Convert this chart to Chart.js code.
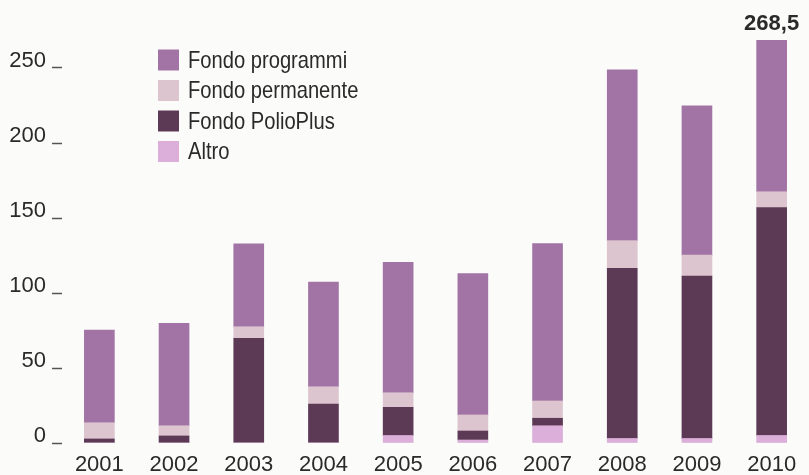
<!DOCTYPE html>
<html>
<head>
<meta charset="utf-8">
<script src="https://cdn.jsdelivr.net/npm/chart.js@4/dist/chart.umd.min.js"></script>
<style>
  html, body { margin: 0; padding: 0; background: #fbfbfa; }
  #wrap { width: 809px; height: 475px; }
</style>
</head>
<body>
<div id="wrap"><canvas id="chart"></canvas></div>
<script>
const years = ['2001', '2002', '2003', '2004', '2005', '2006', '2007', '2008', '2009', '2010'];

// valori in milioni, dal basso verso l'alto
const altro      = [0, 0, 0, 0, 5, 2, 11.5, 3, 3, 5];
const polioPlus  = [2.7, 4.7, 69.8, 26, 18.8, 6, 5, 113.4, 108.3, 152];
const permanente = [10.8, 6.8, 7.7, 11.5, 9.7, 10.7, 11.5, 18.5, 14, 10.5];
const programmi  = [61.8, 68.3, 55.2, 69.8, 87, 94.3, 105, 113.8, 99.4, 101];

const yTicks = [0, 50, 100, 150, 200, 250];
const labelledYear = '2010';

const colors = {
    programmi: '#a274a5',
    permanente: '#dcc5cf',
    polio: '#5c3a56',
    altro: '#dbafd9'
};

// legenda disegnata dentro l'area del grafico (testo stretto)
const legendPlugin = {
    id: 'insideLegend',
    afterDraw(chart) {
        const ctx = chart.ctx;
        const items = chart.data.datasets.slice().reverse();
        ctx.save();
        ctx.font = '24px "Liberation Sans", Arial, sans-serif';
        ctx.textBaseline = 'middle';
        items.forEach((ds, i) => {
            const y = 60 + i * 30.5;
            ctx.fillStyle = ds.backgroundColor;
            ctx.fillRect(158, y - 10.5, 21, 21);
            ctx.save();
            ctx.translate(188, y + 1);
            ctx.scale(0.84, 1);
            ctx.fillStyle = '#2a2a2a';
            ctx.fillText(ds.label, 0, 0);
            ctx.restore();
        });
        ctx.restore();
    }
};

// totale sopra la barra del 2010
const totalPlugin = {
    id: 'totalLabel',
    afterDatasetsDraw(chart) {
        const i = years.indexOf(labelledYear);
        const total = chart.data.datasets.reduce((s, ds) => s + ds.data[i], 0);
        const x = chart.scales.x.getPixelForValue(i);
        const y = chart.scales.y.getPixelForValue(total);
        const ctx = chart.ctx;
        ctx.save();
        ctx.font = 'bold 22px "Liberation Sans", Arial, sans-serif';
        ctx.fillStyle = '#2a2a2a';
        ctx.textAlign = 'center';
        ctx.textBaseline = 'middle';
        ctx.fillText(total.toFixed(1).replace('.', ','), x, y - 16);
        ctx.restore();
    }
};

new Chart(document.getElementById('chart'), {
    type: 'bar',
    data: {
        labels: years,
        datasets: [
            { label: 'Altro', data: altro, backgroundColor: colors.altro },
            { label: 'Fondo PolioPlus', data: polioPlus, backgroundColor: colors.polio },
            { label: 'Fondo permanente', data: permanente, backgroundColor: colors.permanente },
            { label: 'Fondo programmi', data: programmi, backgroundColor: colors.programmi }
        ]
    },
    options: {
        responsive: true,
        maintainAspectRatio: false,
        animation: false,
        layout: { padding: { top: 23, right: 0, left: 0, bottom: 0 } },
        datasets: {
            bar: { barThickness: 30, borderWidth: 0 }
        },
        plugins: {
            legend: { display: false },
            tooltip: { enabled: false }
        },
        scales: {
            x: {
                stacked: true,
                grid: { display: false, drawTicks: false },
                border: { display: false },
                ticks: {
                    color: '#2a2a2a',
                    padding: 9,
                    font: { family: '"Liberation Sans", Arial, sans-serif', size: 22 }
                },
                afterFit: scale => { scale.height = 32; }
            },
            y: {
                stacked: true,
                min: 0,
                max: 280,
                afterBuildTicks: scale => {
                    scale.ticks = yTicks.map(v => ({ value: v }));
                },
                grid: {
                    drawOnChartArea: false,
                    drawTicks: true,
                    tickLength: 10,
                    tickWidth: 1.5,
                    tickColor: '#555'
                },
                border: { display: false },
                ticks: {
                    color: '#2a2a2a',
                    padding: 6,
                    labelOffset: -7,
                    font: { family: '"Liberation Sans", Arial, sans-serif', size: 22 }
                },
                afterFit: scale => { scale.width = 62; }
            }
        }
    },
    plugins: [legendPlugin, totalPlugin]
});
</script>
</body>
</html>
